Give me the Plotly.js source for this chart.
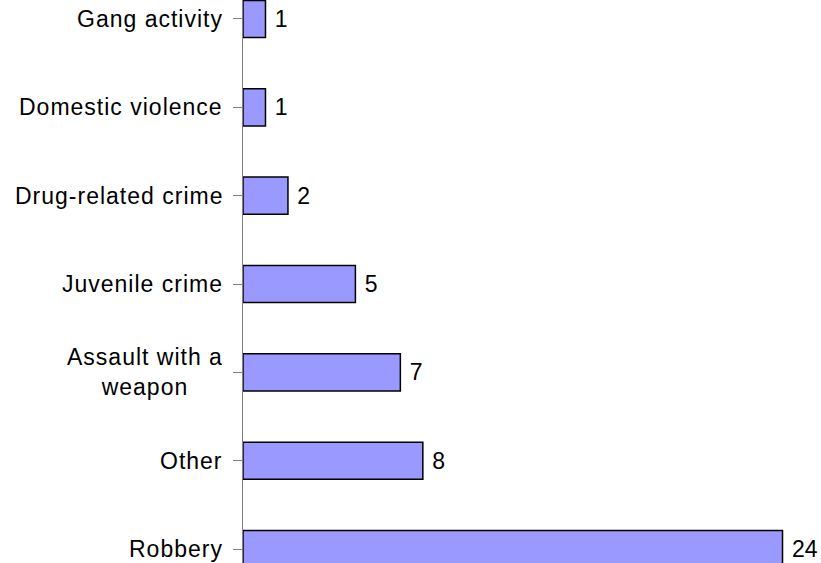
<!DOCTYPE html>
<html>
<head>
<meta charset="utf-8">
<script src="https://cdn.plot.ly/plotly-3.0.1.min.js"></script>
<style>
html,body{margin:0;padding:0;background:#fff;}
#chart{width:821px;height:563px;}
.annotation-text{letter-spacing:1px;}
</style>
</head>
<body>
<div id="chart"></div>
<script>
const categories = ["Robbery", "Other", "Assault with a<br>weapon", "Juvenile crime", "Drug-related crime", "Domestic violence", "Gang activity"];
const values = [24, 8, 7, 5, 2, 1, 1];

const FONT = "Liberation Sans, Arial, sans-serif";

const trace = {
  type: "bar",
  orientation: "h",
  y: categories.map((c, i) => i),
  x: values,
  width: 0.42,
  marker: {color: "#9999FF", line: {color: "#000000", width: 1.5}},
  texttemplate: " %{x}",
  textposition: "outside",
  cliponaxis: false,
  textfont: {family: FONT, size: 23, color: "#000000"},
  hoverinfo: "none"
};

const annotations = categories.map((c, i) => ({
  text: c,
  xref: "paper", yref: "y",
  x: 0, y: i,
  xanchor: "right", yanchor: "middle",
  xshift: -18,
  align: "center",
  showarrow: false,
  font: {family: FONT, size: 23, color: "#000000"}
}));

const layout = {
  width: 821, height: 563,
  margin: {l: 243, r: 15.5, t: 0, b: 0, pad: 0},
  paper_bgcolor: "#ffffff",
  plot_bgcolor: "#ffffff",
  showlegend: false,
  xaxis: {range: [0, 25], visible: false, fixedrange: true},
  yaxis: {
    range: [-0.158, 6.215],
    tickmode: "array",
    tickvals: categories.map((c, i) => i),
    showticklabels: false,
    ticks: "outside", ticklen: 9, tickcolor: "#808080", tickwidth: 1,
    showline: true, linecolor: "#808080", linewidth: 1,
    showgrid: false, zeroline: false, fixedrange: true
  },
  annotations: annotations
};

Plotly.newPlot("chart", [trace], layout, {displayModeBar: false, staticPlot: true});
</script>
</body>
</html>
